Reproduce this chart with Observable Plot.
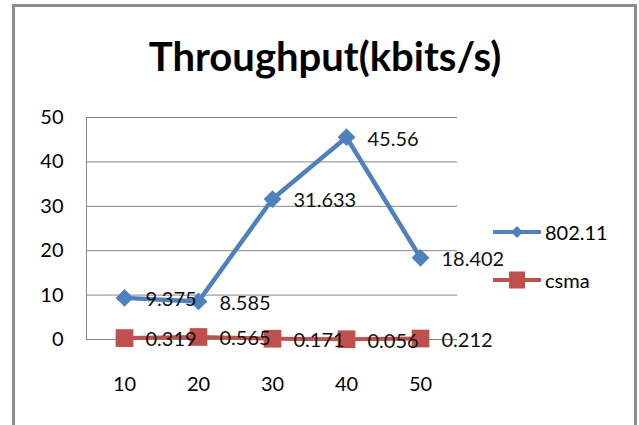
<!DOCTYPE html>
<html>
<head>
<meta charset="utf-8">
<script src="https://cdn.jsdelivr.net/npm/d3@7"></script>
<script src="https://cdn.jsdelivr.net/npm/@observablehq/plot@0.6"></script>
<style>
  html, body { margin: 0; padding: 0; background: #fff; }
  #wrap { position: relative; width: 639px; height: 425px; overflow: hidden; background: #fff; font-family: Lato, sans-serif; }
  #border { position: absolute; left: 12px; top: 4px; width: 619px; height: 460px; border: 3px solid #8c8c8c; border-bottom: none; }
  #title { position: absolute; left: 0; top: 30px; width: 650px; text-align: center; font-family: Lato, sans-serif; font-weight: 700; font-size: 40px; line-height: 52px; color: #000; }
  #chart { position: absolute; left: 0; top: 0; }
  .leg { position: absolute; left: 490px; height: 24px; display: flex; align-items: center; font-family: Lato, sans-serif; font-size: 20px; color: #000; }
  .leg svg { display: block; margin-right: 3px; }
</style>
</head>
<body>
<div id="wrap">
  <div id="border"></div>
  <div id="chart"></div>
  <div id="title"></div>
  <div id="legend"></div>
</div>
<script>
const titleText = "Throughput(kbits/s)";
const categories = ["10", "20", "30", "40", "50"];
const seriesNames = ["802.11", "csma"];
const values80211 = [9.375, 8.585, 31.633, 45.56, 18.402];
const valuesCsma = [0.319, 0.565, 0.171, 0.056, 0.212];
const yTicks = [0, 10, 20, 30, 40, 50];
const colors = ["#4F81BD", "#C0504D"];

const rows80211 = categories.map((c, i) => ({x: c, y: values80211[i], s: seriesNames[0]}));
const rowsCsma = categories.map((c, i) => ({x: c, y: valuesCsma[i], s: seriesNames[1]}));
const allRows = [...rowsCsma, ...rows80211];

document.getElementById("title").textContent = titleText;

const chart = Plot.plot({
  width: 639,
  height: 425,
  marginLeft: 86,
  marginRight: 182,
  marginTop: 117,
  marginBottom: 86,
  style: {background: "transparent", fontFamily: "Lato, sans-serif", fontSize: "20px", color: "#000", overflow: "visible"},
  x: {type: "point", domain: categories, padding: 0.5, label: null},
  y: {domain: [0, 50], ticks: yTicks, label: null},
  marks: [
    Plot.ruleY(yTicks, {stroke: "#868686", strokeWidth: 1}),
    Plot.frame({anchor: "left", stroke: "#868686", strokeWidth: 1}),
    Plot.axisY({ticks: yTicks, tickSize: 0, tickPadding: 23, fontSize: 20, label: null, fill: "#000"}),
    Plot.axisX({tickSize: 0, tickPadding: 37, fontSize: 20, label: null, fill: "#000"}),
    Plot.line(rowsCsma, {x: "x", y: "y", stroke: colors[1], strokeWidth: 4}),
    Plot.dot(rowsCsma, {x: "x", y: "y", symbol: "square", r: 10, fill: colors[1], stroke: "none"}),
    Plot.line(rows80211, {x: "x", y: "y", stroke: colors[0], strokeWidth: 4.5}),
    Plot.dot(rows80211, {x: "x", y: "y", symbol: "diamond2", r: 8, fill: colors[0], stroke: "none"}),
    Plot.text(allRows, {x: "x", y: "y", text: d => String(d.y), textAnchor: "start", dx: 21, dy: 2, fill: "#111", fontSize: 20})
  ]
});
document.getElementById("chart").appendChild(chart);

// Legend
const legend = document.getElementById("legend");
const legTops = [220, 268];
seriesNames.forEach((name, i) => {
  const row = document.createElement("div");
  row.className = "leg";
  row.style.top = legTops[i] + "px";
  const sw = d3.create("svg").attr("width", 52).attr("height", 24);
  sw.append("line").attr("x1", 3).attr("x2", 51).attr("y1", 12).attr("y2", 12)
    .attr("stroke", colors[i]).attr("stroke-width", 4);
  if (i === 0) {
    sw.append("path").attr("d", d3.symbol(d3.symbolDiamond2, 90)()).attr("transform", "translate(27,12)").attr("fill", colors[i]);
  } else {
    sw.append("rect").attr("x", 19).attr("y", 3.5).attr("width", 16).attr("height", 17).attr("fill", colors[i]);
  }
  row.appendChild(sw.node());
  const t = document.createElement("span");
  t.textContent = name;
  row.appendChild(t);
  legend.appendChild(row);
});
</script>
</body>
</html>
